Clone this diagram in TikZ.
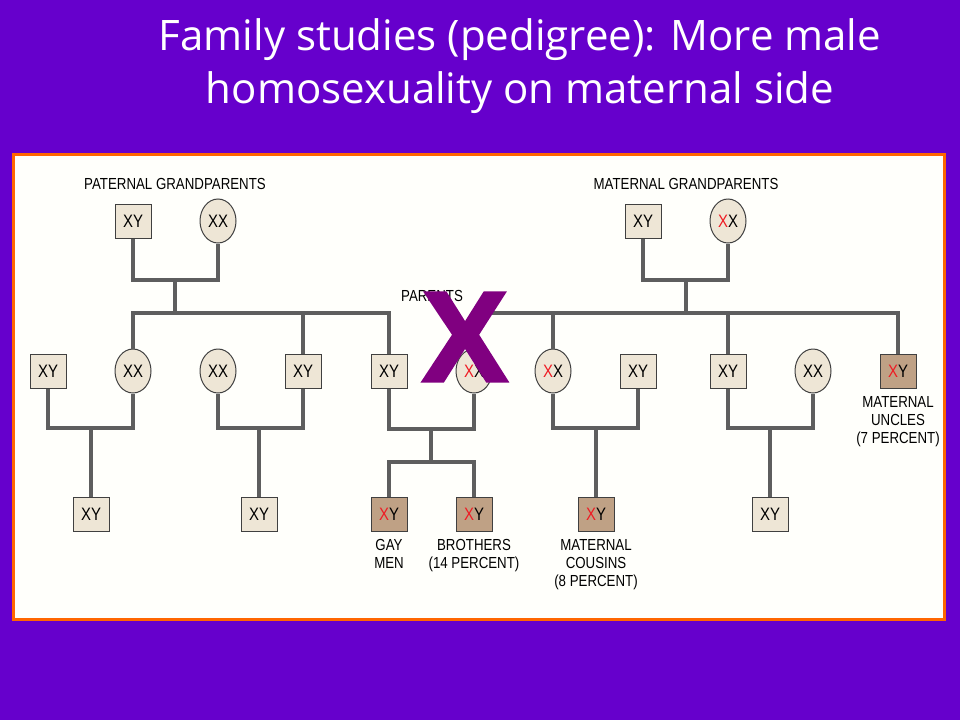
\documentclass[tikz,border=0pt]{standalone}
\usepackage{fontspec}
\usepackage{tikz}
\usetikzlibrary{shapes.geometric,positioning}
\newfontfamily\narrowfont[FakeStretch=0.83]{Liberation Sans}
\newfontfamily\titlefont{Open Sans}
\newfontfamily\bigfont[FakeBold=2.5]{Liberation Sans Bold}
\definecolor{slide}{HTML}{6600CC}
\definecolor{frame}{HTML}{FF6600}
\definecolor{paper}{HTML}{FFFFFB}
\definecolor{beige}{HTML}{EEE6D6}
\definecolor{affected}{HTML}{BFA185}
\definecolor{wire}{HTML}{5E5E5E}
\definecolor{xred}{HTML}{EE1C24}
\definecolor{bigx}{HTML}{800080}
\newcommand{\rx}{\textcolor{xred}{X}}
\tikzset{
  male/.style={draw=black!75,line width=1pt,fill=beige,minimum width=36pt,minimum height=34pt,inner sep=0pt,font=\narrowfont\fontsize{18}{18}\selectfont},
  female/.style={male,ellipse,minimum width=36pt,minimum height=44pt},
  gay/.style={male,fill=affected},
  link/.style={draw=wire,line width=4pt},
  caption/.style={font=\narrowfont\fontsize{16}{18}\selectfont,align=center,inner sep=0pt}
}

\begin{document}
\begin{tikzpicture}[x=1pt,y=-1pt]
% slide
\fill[slide] (0,0) rectangle (960,720);
\useasboundingbox (0,0) rectangle (960,720);
\draw[frame,line width=3pt,fill=paper] (13.5,154.5) rectangle (944.5,619.5);
\node[anchor=base,align=center,text=white,font=\titlefont\fontsize{42}{53}\selectfont] (title) at (520,103)
  {Family studies (pedigree): More male\\homosexuality on maternal side};
% grandparents
\node[male] (pgf) at (133,221) {XY};
\node[female] (pgm) at (218,221) {XX};
\node[male] (mgf) at (643,221) {XY};
\node[female] (mgm) at (728,221) {\rx X};
% parents and their siblings
\node[male] (a1) at (48,371) {XY};
\node[female] (a2) at (133,371) {XX};
\node[female] (a3) at (218,371) {XX};
\node[male] (a4) at (303,371) {XY};
\node[male] (dad) at (389,371) {XY};
\node[female] (mom) at (474,371) {\rx X};
\node[female] (b1) at (553,371) {\rx X};
\node[male] (b2) at (638,371) {XY};
\node[male] (b3) at (728,371) {XY};
\node[female] (b4) at (813,371) {XX};
\node[gay] (uncle) at (898,371) {\rx Y};
% children
\node[male] (c1) at (91,514) {XY};
\node[male] (c2) at (259,514) {XY};
\node[gay] (gaym) at (389,514) {\rx Y};
\node[gay] (bro) at (474,514) {\rx Y};
\node[gay] (cousin) at (596,514) {\rx Y};
\node[male] (c5) at (770,514) {XY};
% junctions
\coordinate (pg) at (175,280);
\coordinate (ps) at (175,313);
\coordinate (mg) at (686,280);
\coordinate (ms) at (686,313);
\coordinate (j1) at (91,428);
\coordinate (j2) at (259,428);
\coordinate (jp) at (431,429);
\coordinate (sib) at (431,462);
\coordinate (j4) at (596,428);
\coordinate (j5) at (770,428);
% lines
\draw[link] (pgf) |- (pg) -| (pgm);
\draw[link] (pg) -- (ps);
\draw[link] (a2) |- (ps) -| (dad);
\draw[link] (a4) -- (a4 |- ps);
\draw[link] (mgf) |- (mg) -| (mgm);
\draw[link] (mg) -- (ms);
\draw[link] (mom) |- (ms) -| (uncle);
\draw[link] (b1) -- (b1 |- ms);
\draw[link] (b3) -- (b3 |- ms);
\foreach \a/\b/\j/\c in {a1/a2/j1/c1,a3/a4/j2/c2,b1/b2/j4/cousin,b3/b4/j5/c5}
  \draw[link] (\a) |- (\j) -| (\b) (\j) -- (\c);
\draw[link] (dad) |- (jp) -| (mom);
\draw[link] (jp) -- (sib);
\draw[link] (gaym) |- (sib) -| (bro);
% labels
\node[caption] (plab) at (175,184) {PATERNAL GRANDPARENTS};
\node[caption] (mlab) at (686,184) {MATERNAL GRANDPARENTS};
\node[caption] (parlab) at (432,296) {PARENTS};
\node[caption,below=8pt of uncle] (ulab) {MATERNAL\\UNCLES\\(7 PERCENT)};
\node[caption,below=8pt of gaym] (glab) {GAY\\MEN};
\node[caption,below=8pt of bro] (blab) {BROTHERS\\(14 PERCENT)};
\node[caption,below=8pt of cousin] (clab) {MATERNAL\\COUSINS\\(8 PERCENT)};
% big X
\node[text=bigx,font=\bigfont\fontsize{128}{128}\selectfont,inner sep=0pt] (bigx) at (465,337) {X};
\end{tikzpicture}
\end{document}
